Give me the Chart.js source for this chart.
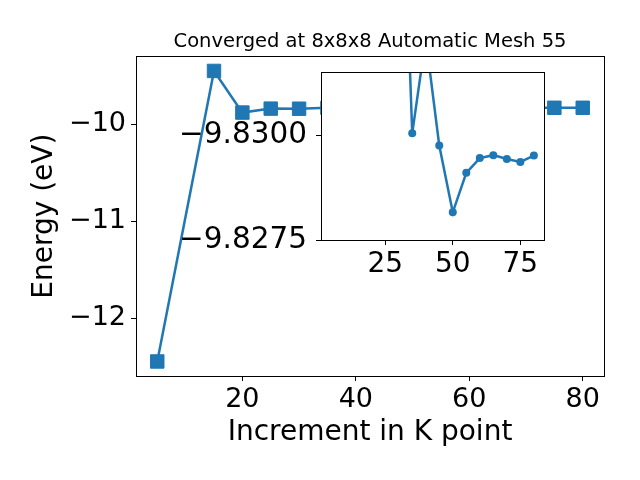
<!DOCTYPE html>
<html>
<head>
<meta charset="utf-8">
<script src="https://cdn.jsdelivr.net/npm/chart.js@4.4.1/dist/chart.umd.min.js"></script>
<style>
  body { margin: 0; background: #fff; }
  #wrap { position: relative; width: 640px; height: 480px; }
  #main-chart { position: absolute; left: 0; top: 0; }
  #inset-chart { position: absolute; left: 150px; top: 60px; }
</style>
</head>
<body>
<div id="wrap">
  <canvas id="main-chart" width="640" height="480"></canvas>
  <canvas id="inset-chart" width="410" height="230"></canvas>
</div>
<script>
var kpoints = [5, 15, 20, 25, 30, 35, 40, 45, 50, 55, 60, 65, 70, 75, 80];
var energies = [-12.448, -9.449, -9.879, -9.838, -9.839, -9.83004, -9.8323, -9.82975,
                -9.82816, -9.82910, -9.82945, -9.82952, -9.82943, -9.82936, -9.82951];
var inset_from = 3; // inset plots from k = 25 on

var main_x_ticks = [20, 40, 60, 80];
var main_y_ticks = [-12, -11, -10];
var inset_x_ticks = [25, 50, 75];
var inset_y_ticks = [-9.8300, -9.8275];

var blue = '#1f77b4';
var font_family = '"DejaVu Sans", sans-serif';

function points(from)
{
  var out = [];
  for (var i = from; i < kpoints.length; i++)
    out.push({ x: kpoints[i], y: energies[i] });
  return out;
}

function fmt(v, digits)
{
  var s = Math.abs(v).toFixed(digits);
  return (v < 0 ? '\u2212' : '') + s;
}

function set_ticks(list)
{
  return function (axis) { axis.ticks = list.map(function (v) { return { value: v }; }); };
}

// fixed axis size, and no extra padding for labels at the ends
function fix_size(prop, size)
{
  return function (axis)
  {
    axis[prop] = size;
    axis.paddingTop = 0;
    axis.paddingBottom = 0;
    axis.paddingLeft = 0;
    axis.paddingRight = 0;
  };
}

// white background + black frame like matplotlib axes
var frame_plugin = {
  id: 'frame',
  beforeDraw: function (chart, args, opts)
  {
    var ctx = chart.ctx, a = chart.chartArea;
    ctx.save();
    ctx.fillStyle = '#fff';
    if (opts.whole)
      ctx.fillRect(0, 0, chart.width, chart.height);
    else
      ctx.fillRect(a.left, a.top, a.right - a.left, a.bottom - a.top);
    ctx.restore();
  },
  afterDatasetsDraw: function (chart)
  {
    var ctx = chart.ctx, a = chart.chartArea;
    ctx.save();
    ctx.strokeStyle = '#000';
    ctx.lineWidth = 1;
    ctx.strokeRect(Math.round(a.left) + 0.5, Math.round(a.top) + 0.5,
                   Math.round(a.right - a.left), Math.round(a.bottom - a.top));
    ctx.restore();
  }
};

function grid_opts()
{
  return { display: true, drawOnChartArea: false, drawTicks: true, tickLength: 5, color: '#000', lineWidth: 1 };
}

var main_chart = new Chart(document.getElementById('main-chart'), {
  type: 'line',
  data: {
    datasets: [{
      data: points(0),
      borderColor: blue,
      backgroundColor: blue,
      borderWidth: 2.5,
      pointStyle: 'rect',
      pointRadius: 9.5,
      pointBorderWidth: 1,
      pointBackgroundColor: blue,
      pointBorderColor: blue,
      tension: 0,
      fill: false
    }]
  },
  options: {
    responsive: false,
    animation: false,
    devicePixelRatio: 1,
    layout: { padding: { left: 0, right: 36, top: 0, bottom: 0 } },
    plugins: {
      legend: { display: false },
      tooltip: { enabled: false },
      title: {
        display: true,
        fullSize: false,
        text: 'Converged at 8x8x8 Automatic Mesh 55',
        color: '#000',
        font: { family: font_family, size: 19.5, weight: 'normal' },
        padding: { top: 30, bottom: 3 }
      },
      frame: { whole: true }
    },
    scales: {
      x: {
        type: 'linear',
        min: 1.25,
        max: 83.75,
        afterBuildTicks: set_ticks(main_x_ticks),
        afterFit: fix_size('height', 104),
        grid: grid_opts(),
        border: { display: false },
        ticks: {
          color: '#000', padding: 3,
          font: { family: font_family, size: 27 },
          callback: function (v) { return fmt(v, 0); }
        },
        title: {
          display: true,
          text: 'Increment in K point',
          color: '#000',
          font: { family: font_family, size: 28 },
          padding: { top: 0, bottom: 30 }
        }
      },
      y: {
        type: 'linear',
        min: -12.598,
        max: -9.299,
        afterBuildTicks: set_ticks(main_y_ticks),
        afterFit: fix_size('width', 136),
        grid: grid_opts(),
        border: { display: false },
        ticks: {
          color: '#000', padding: 5,
          font: { family: font_family, size: 27 },
          callback: function (v) { return fmt(v, 0); }
        },
        title: {
          display: true,
          text: 'Energy (eV)',
          color: '#000',
          font: { family: font_family, size: 28 },
          padding: { top: 28, bottom: 0 }
        }
      }
    }
  },
  plugins: [frame_plugin]
});

var inset_chart = new Chart(document.getElementById('inset-chart'), {
  type: 'line',
  data: {
    datasets: [{
      data: points(inset_from),
      borderColor: blue,
      backgroundColor: blue,
      borderWidth: 2.5,
      pointStyle: 'circle',
      pointRadius: 4,
      pointBorderWidth: 0,
      pointBackgroundColor: blue,
      tension: 0,
      fill: false
    }]
  },
  options: {
    responsive: false,
    animation: false,
    devicePixelRatio: 1,
    layout: { padding: { left: 0, right: 16, top: 12, bottom: 0 } },
    plugins: {
      legend: { display: false },
      tooltip: { enabled: false },
      frame: { whole: false }
    },
    scales: {
      x: {
        type: 'linear',
        min: 1.25,
        max: 83.75,
        afterBuildTicks: set_ticks(inset_x_ticks),
        afterFit: fix_size('height', 50),
        grid: grid_opts(),
        border: { display: false },
        ticks: {
          color: '#000', padding: 3,
          font: { family: font_family, size: 28 },
          callback: function (v) { return fmt(v, 0); }
        }
      },
      y: {
        type: 'linear',
        reverse: true,
        min: -9.8315,
        max: -9.8275,
        afterBuildTicks: set_ticks(inset_y_ticks),
        afterFit: fix_size('width', 171),
        grid: grid_opts(),
        border: { display: false },
        ticks: {
          color: '#000', padding: 9,
          font: { family: font_family, size: 29.5 },
          callback: function (v) { return fmt(v, 4); }
        }
      }
    }
  },
  plugins: [frame_plugin]
});
</script>
</body>
</html>
